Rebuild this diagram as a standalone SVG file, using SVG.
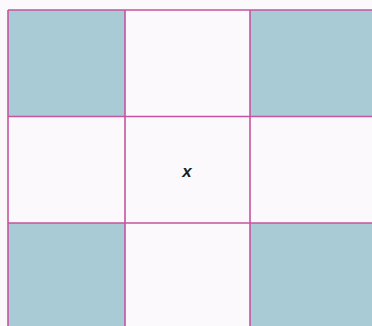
<svg xmlns="http://www.w3.org/2000/svg" width="372" height="326" viewBox="0 0 372 326">
<style>
.cell{fill:#a9cbd5}
.grid{stroke:#c4559f;stroke-width:1.6;fill:none}
.lbl{font-family:"Liberation Sans",Arial,sans-serif;font-size:17px;font-weight:bold;font-style:italic;fill:#1e1e1e}
</style>
<rect width="372" height="326" fill="#fbf9fc"/>
<g id="cells">
<rect class="cell" x="8" y="10" width="117" height="106"/>
<rect class="cell" x="250" y="10" width="122" height="106"/>
<rect class="cell" x="8" y="223" width="117" height="103" fill="#a8c7d8"/>
<rect class="cell" x="250" y="223" width="122" height="103" fill="#a8c7d8"/>
</g>
<g id="grid">
<line class="grid" x1="8" y1="10" x2="372" y2="10"/>
<line class="grid" x1="8" y1="116.5" x2="372" y2="116.5"/>
<line class="grid" x1="8" y1="223" x2="372" y2="223"/>
<line class="grid" x1="8" y1="10" x2="8" y2="326"/>
<line class="grid" x1="125" y1="10" x2="125" y2="326"/>
<line class="grid" x1="250" y1="10" x2="250" y2="326"/>
</g>
<g id="center">
<text class="lbl" x="187" y="177" text-anchor="middle">x</text>
</g>
</svg>
